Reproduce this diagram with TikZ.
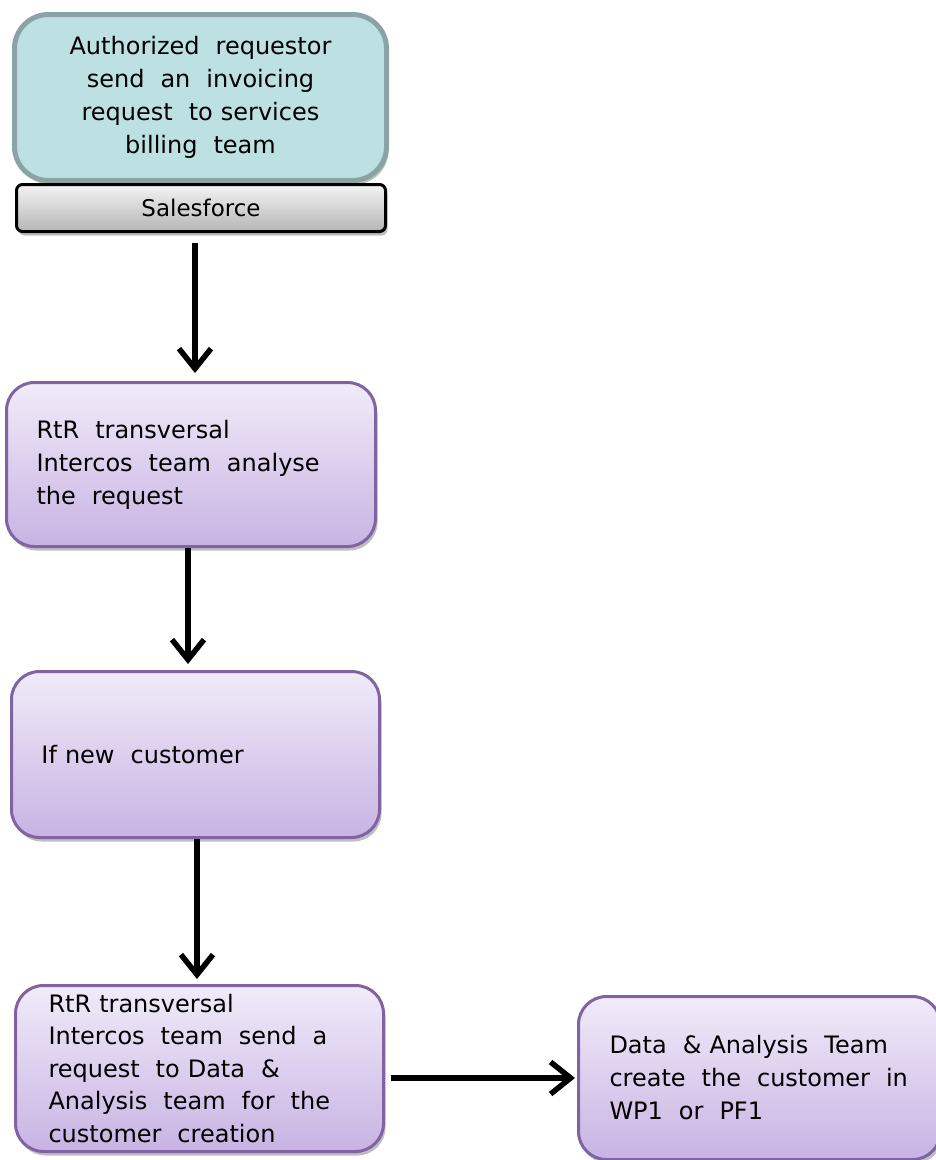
\documentclass[tikz,border=0pt]{standalone}
\usepackage{fontspec}
\setmainfont{DejaVu Sans}
\usetikzlibrary{arrows.meta,shadows}
\definecolor{tealfill}{HTML}{BDE0E3}
\definecolor{tealline}{HTML}{8AA4A6}
\definecolor{ptop}{HTML}{F1EBF9}
\definecolor{pbot}{HTML}{C8B3E3}
\definecolor{pline}{HTML}{8064A2}
\definecolor{gtop}{HTML}{F4F4F4}
\definecolor{gbot}{HTML}{B5B5B5}
\begin{document}
\begin{tikzpicture}[x=1pt,y=-1pt,
  txt/.style={font=\fontsize{24}{33}\selectfont},
  shad/.style={drop shadow={shadow xshift=2pt,shadow yshift=-4pt,opacity=0.25,fill=black}},
  pbox/.style={rectangle,rounded corners=28pt,draw=pline,line width=3pt,
    top color=ptop,bottom color=pbot,shad,txt,align=left,inner xsep=30pt,inner ysep=0pt},
  tbox/.style={rectangle,rounded corners=34pt,draw=tealline,line width=5pt,
    fill=tealfill,shad,txt,align=center,inner xsep=20pt,inner ysep=0pt},
  gbar/.style={rectangle,rounded corners=6pt,draw=black,line width=3pt,
    top color=gtop,bottom color=gbot,shad,font=\fontsize{23}{26}\selectfont,inner sep=0pt},
  arr/.style={line width=5.5pt,-{Straight Barb[length=20pt,width=32pt,line width=5.5pt]}}
]
\useasboundingbox (0,0) rectangle (936,1160);

\node[tbox,text width=332pt,minimum height=166pt,anchor=north west] (b1) at (12,12)
  {Authorized\ \ requestor\\send\ \ an\ \ invoicing\\request\ \ to services\\billing\ \ team};
\node[gbar,minimum width=369pt,minimum height=47pt,anchor=north west] (sf) at (15,183) {Salesforce};

\node[pbox,text width=309pt,minimum height=164pt,anchor=north west] (b2) at (5,381)
  {RtR\ \ transversal\\Intercos\ \ team\ \ analyse\\the\ \ request};

\node[pbox,text width=308pt,minimum height=166pt,anchor=north west] (b3) at (10,670)
  {If new\ \ customer};

\node[pbox,text width=302pt,minimum height=166pt,anchor=north west,inner xsep=33pt,
  font=\fontsize{24}{32.5}\selectfont] (b4) at (14,984)
  {RtR transversal\\Intercos\ \ team\ \ send\ \ a\\request\ \ to Data\ \ \&\\Analysis\ \ team\ \ for\ \ the\\customer\ \ creation};

\node[pbox,text width=300pt,minimum height=163pt,anchor=north west,inner xsep=31pt] (b5) at (577,995)
  {Data\ \ \&\ Analysis\ \ Team\\create\ \ the\ \ customer\ \ in\\WP1\ \ or\ \ PF1};

\draw[arr,shorten <=10pt,shorten >=8pt] (sf.south -| 195,0) -- (b2.north -| 195,0);
\draw[arr,shorten >=6pt] (b2.south -| 188,0) -- (b3.north -| 188,0);
\draw[arr,shorten >=5pt] (b3.south -| 197,0) -- (b4.north -| 197,0);
\draw[arr,shorten <=6pt,shorten >=2pt] (b4.east |- 0,1078) -- (b5.west |- 0,1078);
\end{tikzpicture}
\end{document}
